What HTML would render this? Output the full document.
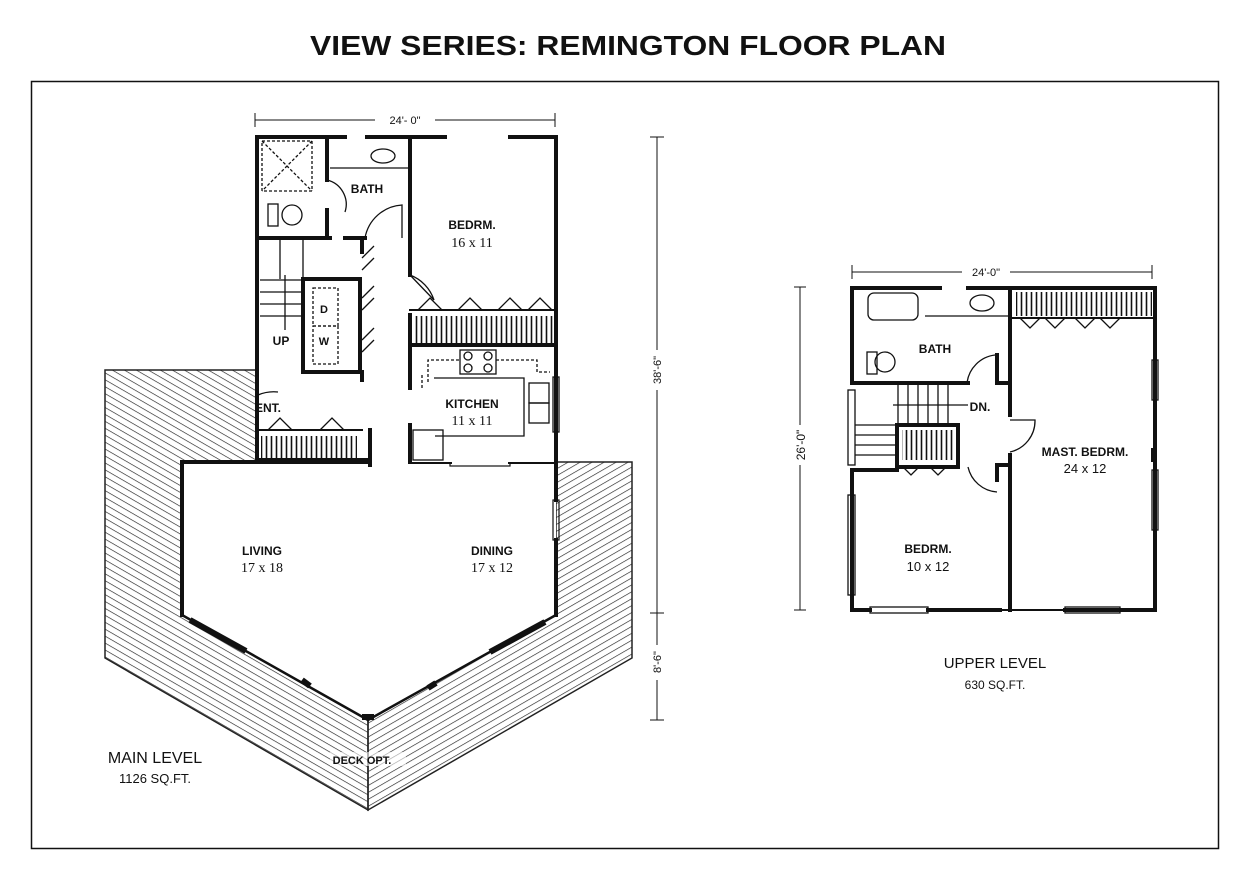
<!DOCTYPE html>
<html><head><meta charset="utf-8"><style>
html,body{margin:0;padding:0;background:#fff;}
svg{display:block;}
text{font-family:"Liberation Sans",sans-serif;fill:#111;}
.s{font-family:"Liberation Serif",serif;}
</style></head><body>
<svg width="1250" height="878" viewBox="0 0 1250 878" xmlns="http://www.w3.org/2000/svg">
<defs>
<pattern id="h1" width="6" height="6" patternUnits="userSpaceOnUse" patternTransform="rotate(30)">
<line x1="0" y1="0" x2="6" y2="0" stroke="#222" stroke-width="1.3"/></pattern>
<pattern id="h2" width="6" height="6" patternUnits="userSpaceOnUse" patternTransform="rotate(-30)">
<line x1="0" y1="0" x2="6" y2="0" stroke="#222" stroke-width="1.3"/></pattern>
<pattern id="cl" width="5" height="10" patternUnits="userSpaceOnUse">
<line x1="1.5" y1="0" x2="1.5" y2="10" stroke="#111" stroke-width="1.6"/></pattern>
</defs>
<rect width="1250" height="878" fill="#fff"/>
<text x="628" y="55" font-size="28" font-weight="bold" text-anchor="middle" textLength="636" lengthAdjust="spacingAndGlyphs">VIEW SERIES: REMINGTON FLOOR PLAN</text>
<rect x="31.5" y="81.5" width="1187" height="767" fill="none" stroke="#111" stroke-width="1.5"/>

<!-- Deck -->
<polygon points="105,370 257,370 257,462 182,462 182,615 368,720 368,810 105,658" fill="url(#h1)" stroke="#222" stroke-width="1.5"/>
<polygon points="556,462 632,462 632,658 368,810 368,720 556,615" fill="url(#h2)" stroke="#222" stroke-width="1.5"/>
<rect x="330" y="752" width="76" height="14" fill="#fff" opacity="0.6"/>

<!-- Living/dining -->
<polygon points="182,462 556,462 556,615 368,720 182,615" fill="#fff"/>
<g stroke="#111" stroke-width="4" fill="none" stroke-linecap="square">
<polyline points="182,615 182,462 370,462"/>
<line x1="410" y1="462" x2="450" y2="462"/>
<line x1="510" y1="462" x2="556" y2="462"/>
<polyline points="556,500 556,462"/>
<polyline points="556,540 556,615"/>
<line x1="182" y1="615" x2="368" y2="720" stroke-width="2.5"/>
<line x1="368" y1="720" x2="556" y2="615" stroke-width="2.5"/>
</g>
<g stroke="#111" stroke-width="1.2" fill="none">
<rect x="450" y="459" width="60" height="7"/>
<rect x="553" y="500" width="6" height="40"/>
</g>
<g stroke="#111" stroke-width="6">
<line x1="190" y1="620" x2="246" y2="651"/><line x1="302" y1="680" x2="310" y2="686"/>
<line x1="490" y1="652" x2="545" y2="622"/><line x1="428" y1="688" x2="436" y2="683"/>
<line x1="362" y1="717" x2="374" y2="717"/>
</g>

<!-- Main upper block -->
<rect x="257" y="137" width="299" height="325" fill="#fff"/>
<line x1="255" y1="120" x2="555" y2="120" stroke="#111" stroke-width="1"/>
<line x1="255" y1="113" x2="255" y2="127" stroke="#111"/><line x1="555" y1="113" x2="555" y2="127" stroke="#111"/>
<rect x="375" y="113" width="60" height="12" fill="#fff"/>
<text x="405" y="124" font-size="11" text-anchor="middle">24'- 0"</text>
<g stroke="#111" stroke-width="4" fill="none" stroke-linecap="square">
<polyline points="345,137 257,137 257,462"/>
<polyline points="367,137 445,137"/>
<polyline points="510,137 556,137 556,462"/>
<line x1="410" y1="137" x2="410" y2="275"/>
<line x1="410" y1="315" x2="410" y2="388"/>
<line x1="410" y1="425" x2="410" y2="462"/>
<line x1="257" y1="238" x2="330" y2="238"/>
<line x1="345" y1="238" x2="365" y2="238"/>
<line x1="327" y1="137" x2="327" y2="180"/>
<line x1="327" y1="210" x2="327" y2="238"/>
<rect x="303" y="279" width="57" height="93"/>
<line x1="257" y1="460" x2="370" y2="460"/>
<line x1="370" y1="430" x2="370" y2="465"/>
<line x1="257" y1="430" x2="257" y2="462"/>
<line x1="410" y1="345" x2="556" y2="345"/>
<line x1="410" y1="310" x2="556" y2="310" stroke-width="2"/>
<line x1="257" y1="430" x2="362" y2="430" stroke-width="2"/>
<line x1="362" y1="240" x2="362" y2="252"/>
<line x1="362" y1="372" x2="362" y2="380"/>
</g>
<rect x="413" y="316" width="140" height="27" fill="url(#cl)"/>
<rect x="261" y="436" width="96" height="22" fill="url(#cl)"/>
<g stroke="#111" stroke-width="1.3" fill="none">
<rect x="262" y="141" width="50" height="50" stroke-dasharray="3,2"/>
<line x1="262" y1="141" x2="312" y2="191" stroke-dasharray="3,2"/><line x1="312" y1="141" x2="262" y2="191" stroke-dasharray="3,2"/>
<ellipse cx="383" cy="156" rx="12" ry="7"/>
<line x1="330" y1="168" x2="408" y2="168"/>
<ellipse cx="292" cy="215" rx="10" ry="10"/><rect x="268" y="204" width="10" height="22"/>
<path d="M327,180 A25,25 0 0 1 345,212"/>
<path d="M365,238 A40,40 0 0 1 402,205 L402,238"/>
<path d="M410,275 L434,300 A40,40 0 0 0 410,275"/>
<rect x="313" y="288" width="25" height="38" stroke-dasharray="3,2"/>
<rect x="313" y="326" width="25" height="38" stroke-dasharray="3,2"/>
<path d="M362,258 l12,-12 M362,270 l12,-12 M362,298 l12,-12 M362,310 l12,-12 M362,340 l12,-12 M362,352 l12,-12"/>
<path d="M418,310 l12,-12 l12,12 M458,310 l12,-12 l12,12 M498,310 l12,-12 l12,12 M528,310 l12,-12 l12,12"/>
<path d="M268,430 l12,-12 l12,12 M320,430 l12,-12 l12,12"/>
<line x1="303" y1="238" x2="303" y2="279"/><line x1="280" y1="238" x2="280" y2="279"/>
<line x1="260" y1="280" x2="303" y2="280"/><line x1="260" y1="292" x2="303" y2="292"/><line x1="260" y1="304" x2="303" y2="304"/><line x1="260" y1="316" x2="303" y2="316"/>
<line x1="285" y1="275" x2="285" y2="330"/>
<path d="M258,395 A40,40 0 0 1 278,392"/>
<rect x="460" y="350" width="36" height="24"/>
<circle cx="468" cy="356" r="4"/><circle cx="488" cy="356" r="4"/><circle cx="468" cy="368" r="4"/><circle cx="488" cy="368" r="4"/>
<path d="M428,382 L428,360 L460,360 M496,360 L537,360 L537,372 L550,372" stroke-dasharray="3,2"/>
<path d="M422,388 L422,374" stroke-dasharray="3,2"/>
<polyline points="434,378 524,378 524,436 435,436"/>
<rect x="529" y="383" width="20" height="20"/><rect x="529" y="403" width="20" height="20"/>
<rect x="553" y="377" width="6" height="55"/>
<rect x="413" y="430" width="30" height="30"/>
</g>
<!-- main labels -->
<text x="367" y="193" font-size="12" font-weight="bold" text-anchor="middle">BATH</text>
<text x="472" y="229" font-size="12" font-weight="bold" text-anchor="middle">BEDRM.</text>
<text x="472" y="247" font-size="14" class="s" text-anchor="middle">16 x 11</text>
<text x="281" y="345" font-size="12" font-weight="bold" text-anchor="middle">UP</text>
<text x="324" y="313" font-size="11" font-weight="bold" text-anchor="middle">D</text>
<text x="324" y="345" font-size="11" font-weight="bold" text-anchor="middle">W</text>
<text x="268" y="412" font-size="12" font-weight="bold" text-anchor="middle">ENT.</text>
<text x="472" y="408" font-size="12" font-weight="bold" text-anchor="middle">KITCHEN</text>
<text x="472" y="425" font-size="14" class="s" text-anchor="middle">11 x 11</text>
<text x="262" y="555" font-size="12" font-weight="bold" text-anchor="middle">LIVING</text>
<text x="262" y="572" font-size="14" class="s" text-anchor="middle">17 x 18</text>
<text x="492" y="555" font-size="12" font-weight="bold" text-anchor="middle">DINING</text>
<text x="492" y="572" font-size="14" class="s" text-anchor="middle">17 x 12</text>
<text x="362" y="764" font-size="11" font-weight="bold" text-anchor="middle">DECK  OPT.</text>
<text x="155" y="763" font-size="16" text-anchor="middle">MAIN LEVEL</text>
<text x="155" y="783" font-size="13" text-anchor="middle">1126 SQ.FT.</text>

<!-- vertical dims -->
<g stroke="#111" stroke-width="1">
<line x1="657" y1="137" x2="657" y2="720"/>
<line x1="650" y1="137" x2="664" y2="137"/><line x1="650" y1="613" x2="664" y2="613"/><line x1="650" y1="720" x2="664" y2="720"/>
</g>
<rect x="650" y="350" width="14" height="40" fill="#fff"/><rect x="650" y="645" width="14" height="35" fill="#fff"/>
<text font-size="11" transform="translate(661,370) rotate(-90)" text-anchor="middle">38'-6"</text>
<text font-size="11" transform="translate(661,662) rotate(-90)" text-anchor="middle">8'-6"</text>

<!-- Upper level -->
<g stroke="#111" stroke-width="1">
<line x1="852" y1="272" x2="1152" y2="272"/><line x1="852" y1="265" x2="852" y2="279"/><line x1="1152" y1="265" x2="1152" y2="279"/>
<line x1="800" y1="287" x2="800" y2="610"/><line x1="794" y1="287" x2="806" y2="287"/><line x1="794" y1="610" x2="806" y2="610"/>
</g>
<rect x="962" y="265" width="48" height="12" fill="#fff"/><text x="986" y="276" font-size="11" text-anchor="middle">24'-0"</text>
<rect x="793" y="425" width="14" height="40" fill="#fff"/><text font-size="12" transform="translate(805,445) rotate(-90)" text-anchor="middle">26'-0"</text>
<g stroke="#111" stroke-width="4" fill="none" stroke-linecap="square">
<polyline points="940,288 852,288 852,383"/>
<polyline points="968,288 1155,288 1155,610 1065,610"/>
<line x1="1010" y1="288" x2="1010" y2="415"/><line x1="1010" y1="455" x2="1010" y2="610"/>
<polyline points="852,470 852,610 870,610"/>
<line x1="928" y1="610" x2="1000" y2="610"/><line x1="1000" y1="610" x2="1065" y2="610" stroke-width="2"/>
<line x1="852" y1="383" x2="968" y2="383"/>
<line x1="997" y1="355" x2="997" y2="383"/><line x1="997" y1="383" x2="1010" y2="383"/>
<line x1="997" y1="465" x2="997" y2="480"/><line x1="997" y1="465" x2="1010" y2="465"/>
<rect x="897" y="425" width="61" height="42"/>
<line x1="852" y1="470" x2="897" y2="470"/>
<line x1="1013" y1="318" x2="1155" y2="318" stroke-width="2"/>
<line x1="1153" y1="450" x2="1153" y2="460"/>
</g>
<rect x="1016" y="292" width="136" height="24" fill="url(#cl)"/>
<rect x="902" y="430" width="52" height="30" fill="url(#cl)"/>
<g stroke="#111" stroke-width="1.3" fill="none">
<rect x="868" y="293" width="50" height="27" rx="6"/>
<ellipse cx="982" cy="303" rx="12" ry="8"/><line x1="925" y1="316" x2="1008" y2="316"/>
<ellipse cx="885" cy="362" rx="10" ry="10"/><rect x="867" y="352" width="10" height="22"/>
<path d="M967,383 A32,32 0 0 1 995,355"/>
<path d="M1010,420 L1035,420 A32,32 0 0 1 1010,452"/>
<path d="M968,467 A32,32 0 0 0 997,492"/>
<line x1="898" y1="385" x2="898" y2="425"/><line x1="908" y1="385" x2="908" y2="425"/><line x1="918" y1="385" x2="918" y2="425"/><line x1="928" y1="385" x2="928" y2="425"/><line x1="938" y1="385" x2="938" y2="425"/><line x1="948" y1="385" x2="948" y2="425"/>
<line x1="893" y1="405" x2="968" y2="405"/>
<line x1="855" y1="425" x2="897" y2="425"/><line x1="855" y1="435" x2="897" y2="435"/><line x1="855" y1="445" x2="897" y2="445"/><line x1="855" y1="455" x2="897" y2="455"/>
<rect x="848" y="390" width="7" height="75"/>
<rect x="848" y="495" width="7" height="100"/>
<rect x="1152" y="360" width="6" height="40"/><rect x="1152" y="470" width="6" height="60"/>
<rect x="870" y="607" width="58" height="6"/><rect x="1065" y="607" width="55" height="6"/>
<path d="M1020,318 l10,10 l10,-10 M1045,318 l10,10 l10,-10 M1075,318 l10,10 l10,-10 M1100,318 l10,10 l10,-10"/>
<path d="M903,467 l8,8 l8,-8 M930,467 l8,8 l8,-8"/>
</g>
<text x="935" y="353" font-size="12" font-weight="bold" text-anchor="middle">BATH</text>
<text x="980" y="411" font-size="12" font-weight="bold" text-anchor="middle">DN.</text>
<text x="1085" y="456" font-size="12" font-weight="bold" text-anchor="middle">MAST. BEDRM.</text>
<text x="1085" y="473" font-size="13" text-anchor="middle">24 x 12</text>
<text x="928" y="553" font-size="12" font-weight="bold" text-anchor="middle">BEDRM.</text>
<text x="928" y="571" font-size="13" text-anchor="middle">10 x 12</text>
<text x="995" y="668" font-size="15" text-anchor="middle">UPPER LEVEL</text>
<text x="995" y="689" font-size="12" text-anchor="middle">630 SQ.FT.</text>
</svg>
</body></html>
